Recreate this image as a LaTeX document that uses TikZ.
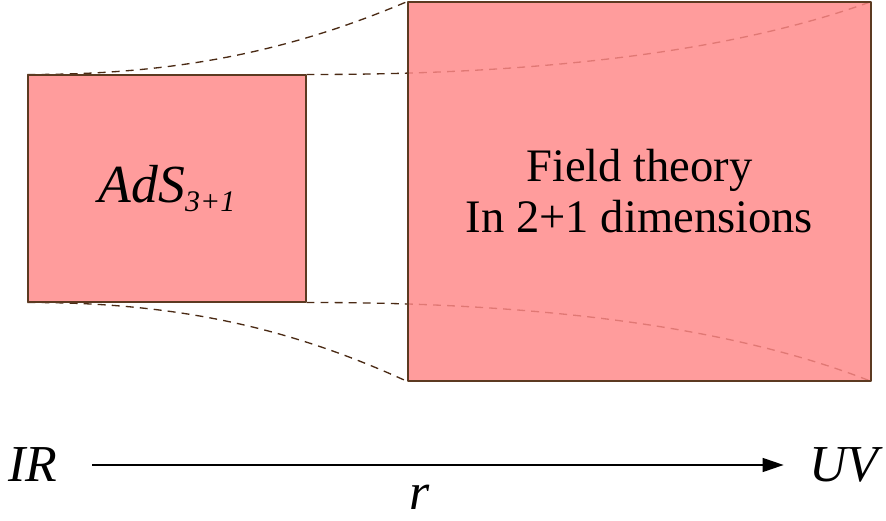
\documentclass[tikz,border=0pt]{standalone}
\usepackage{fontspec}
\setmainfont{Liberation Serif}
\usetikzlibrary{arrows.meta,backgrounds}
\definecolor{borde}{HTML}{5C3A21}
\definecolor{trazo}{HTML}{4A2A14}
\definecolor{rosa}{HTML}{FF8888}

\begin{document}
\begin{tikzpicture}[>={Triangle[length=0.42cm,width=0.28cm]}, line join=round,
    caja/.style={draw=borde, line width=0.6pt, fill=rosa, fill opacity=0.83, text opacity=1},
    guia/.style={trazo, line width=0.75pt, dash pattern=on 4.5pt off 3.5pt},
    etiqueta/.style={inner sep=0pt, font=\fontsize{29.5}{30}\selectfont\itshape}]
  \useasboundingbox (0,0) rectangle (17.72,10.42);

  % las dos regiones
  \node[caja, minimum width=5.56cm, minimum height=4.54cm,
        font=\fontsize{30.5}{31}\selectfont\itshape] (ads) at (3.34,6.65)
    {AdS\raisebox{-5.5pt}{\fontsize{17}{17}\selectfont 3+1}};
  \node[caja, minimum width=9.26cm, minimum height=7.58cm, align=center,
        font=\fontsize{26.5}{29}\selectfont] (cft) at (12.79,6.59)
    {Field theory\\In 2+1 dimensions};

  % lineas punteadas, por debajo de las cajas
  \begin{pgfonlayer}{background}
    \fill[white] (0,0) rectangle (17.72,10.42);
    \draw[guia] (ads.north west) .. controls (3.60,8.92) and (5.88,9.43) .. (cft.north west);
    \draw[guia] (ads.north east) .. controls (10.64,8.92) and (14.60,9.36) .. (cft.north east);
    \draw[guia] (ads.south west) .. controls (3.60,4.38) and (5.88,3.83) .. (cft.south west);
    \draw[guia] (ads.south east) .. controls (10.64,4.38) and (14.60,3.91) .. (cft.south east);
  \end{pgfonlayer}

  % eje radial
  \node[etiqueta] (ir) at (0.65,1.12) {IR};
  \node[etiqueta] (uv) at (16.88,1.12) {UV};
  \node[etiqueta, anchor=base] (r) at (8.40,0.22) {r};
  \draw[->, line width=0.85pt, shorten <=0.70cm, shorten >=0.51cm] (ir) -- (uv);
\end{tikzpicture}
\end{document}
